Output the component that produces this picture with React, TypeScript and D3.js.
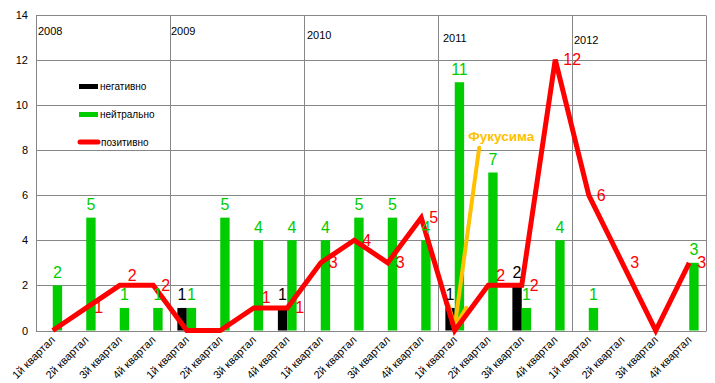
import React from "react";
import * as d3 from "d3";

const years = ["2008", "2009", "2010", "2011", "2012"];
const quarterNames = ["1й квартал", "2й квартал", "3й квартал", "4й квартал"];
const categories = years.flatMap((yr) => quarterNames.map((q) => `${yr} ${q}`));
const negative = [0, 0, 0, 0, 1, 0, 0, 1, 0, 0, 0, 0, 1, 0, 2, 0, 0, 0, 0, 0];
const neutral = [2, 5, 1, 1, 1, 5, 4, 4, 4, 5, 5, 4, 11, 7, 1, 4, 1, 0, 0, 3];
const positive = [0, 1, 2, 2, 0, 0, 1, 1, 3, 4, 3, 5, 0, 2, 2, 12, 6, 3, 0, 3];
const yTicks = [0, 2, 4, 6, 8, 10, 12, 14];
const legendItems = ["негативно", "нейтрально", "позитивно"];
const annotationText = "Фукусима";
const annotationIndex = 12;
const annotationTailValue = 8.1;

// layout constants (text placement of year captions, in px relative to the year boundary / top)
const yearLabelNudge: [number, number][] = [[2, 35], [1, 35], [3, 39], [5, 42], [2, 44]];

const W = 715, H = 383;
const left = 36, right = 706, top = 14.5, bottom = 330.5;
const font = "'Liberation Sans', Arial, sans-serif";
const GREEN = "#00CC00";
const RED = "#FF0000";
const ORANGE = "#FFC000";
const GRID = "#878787";

export default function App() {
  const x = d3.scaleBand<number>().domain(d3.range(categories.length)).range([left, right]).padding(0);
  const y = d3.scaleLinear().domain([0, 14]).range([bottom, top]);
  const bw = x.bandwidth();
  const cx = (i: number) => (x(i) as number) + bw / 2;
  const barW = bw * 0.28;

  const line = d3
    .line<number>()
    .x((_, i) => cx(i))
    .y((d) => y(d));

  const crisp = (v: number) => Math.round(v) + 0.5;

  const tipX = cx(annotationIndex);
  const tipY = y(0) - 4;
  const tailX = cx(annotationIndex) + bw * 0.73;
  const tailY = y(annotationTailValue);
  const ang = Math.atan2(tipY - tailY, tipX - tailX);
  const headLen = 22;
  const headAng = 0.42;
  const h1 = [tipX - headLen * Math.cos(ang - headAng), tipY - headLen * Math.sin(ang - headAng)];
  const h2 = [tipX - headLen * Math.cos(ang + headAng), tipY - headLen * Math.sin(ang + headAng)];

  const yearBounds = [0, 4, 8, 12, 16].map((i) => x(i) as number);

  return (
    <svg width={W} height={H} style={{ position: "absolute", left: 0, top: 0, background: "#fff" }} fontFamily={font}>
      {/* horizontal grid */}
      {yTicks.map((t) => (
        <line key={"g" + t} x1={left} x2={right} y1={crisp(y(t))} y2={crisp(y(t))} stroke={GRID} strokeWidth={1} />
      ))}
      {/* vertical year separators and borders */}
      {[...yearBounds, right].map((v, i) => (
        <line key={"v" + i} x1={crisp(v)} x2={crisp(v)} y1={crisp(y(14))} y2={crisp(y(0))} stroke={GRID} strokeWidth={1} />
      ))}
      {/* y tick labels */}
      {yTicks.map((t) => (
        <text key={"yt" + t} x={28} y={y(t)} textAnchor="end" dominantBaseline="central" fontSize={11} fill="#000">
          {t}
        </text>
      ))}
      {/* year labels */}
      {years.map((yr, i) => (
        <text key={yr} x={yearBounds[i] + yearLabelNudge[i][0]} y={yearLabelNudge[i][1]} fontSize={11} fill="#000">
          {yr}
        </text>
      ))}
      {/* x labels */}
      {categories.map((c, i) => (
        <text
          key={"xl" + i}
          transform={`translate(${cx(i) + 3},${bottom + 10})rotate(-45)`}
          textAnchor="end"
          fontSize={11}
          fill="#000"
        >
          {quarterNames[i % 4]}
        </text>
      ))}
      {/* bars */}
      {negative.map((v, i) =>
        v > 0 ? (
          <rect key={"nb" + i} x={cx(i) - barW} y={y(v)} width={barW} height={y(0) - y(v)} fill="#000" />
        ) : null
      )}
      {neutral.map((v, i) =>
        v > 0 ? <rect key={"gb" + i} x={cx(i)} y={y(v)} width={barW} height={y(0) - y(v)} fill={GREEN} /> : null
      )}
      {/* annotation arrow */}
      <g stroke={ORANGE} strokeWidth={4} strokeLinecap="round" fill="none">
        <line x1={tailX} y1={tailY} x2={tipX} y2={tipY} />
        <polyline points={`${h1[0]},${h1[1]} ${tipX},${tipY} ${h2[0]},${h2[1]}`} strokeLinejoin="miter" />
      </g>
      <text x={tailX - 11} y={tailY - 7} fontSize={13.5} fontWeight="bold" fill={ORANGE}>
        {annotationText}
      </text>
      {/* positive line */}
      <path d={line(positive) || ""} fill="none" stroke={RED} strokeWidth={5} strokeLinejoin="miter" />
      {/* labels */}
      {negative.map((v, i) =>
        v > 0 ? (
          <text key={"nl" + i} x={cx(i) - barW / 2} y={y(v) - 13} textAnchor="middle" dominantBaseline="central" fontSize={16} fill="#000">
            {v}
          </text>
        ) : null
      )}
      {neutral.map((v, i) =>
        v > 0 ? (
          <text key={"gl" + i} x={cx(i) + barW / 2} y={y(v) - 13} textAnchor="middle" dominantBaseline="central" fontSize={16} fill={GREEN}>
            {v}
          </text>
        ) : null
      )}
      {positive.map((v, i) => {
        if (v <= 0) return null;
        const lift = i < positive.length - 1 && positive[i + 1] === v ? 10 : 0;
        return (
          <text key={"pl" + i} x={cx(i) + 8} y={y(v) - lift} dominantBaseline="central" fontSize={16} fill={RED}>
            {v}
          </text>
        );
      })}
      {/* legend */}
      <rect x={79} y={84} width={19} height={5} fill="#000" />
      <text x={100} y={86.5} dominantBaseline="central" fontSize={10} fill="#000">{legendItems[0]}</text>
      <rect x={79} y={112} width={19} height={5} fill={GREEN} />
      <text x={100} y={114.5} dominantBaseline="central" fontSize={10} fill="#000">{legendItems[1]}</text>
      <line x1={80} x2={98} y1={142} y2={142} stroke={RED} strokeWidth={5} strokeLinecap="round" />
      <text x={101} y={142.5} dominantBaseline="central" fontSize={10} fill="#000">{legendItems[2]}</text>
    </svg>
  );
}
